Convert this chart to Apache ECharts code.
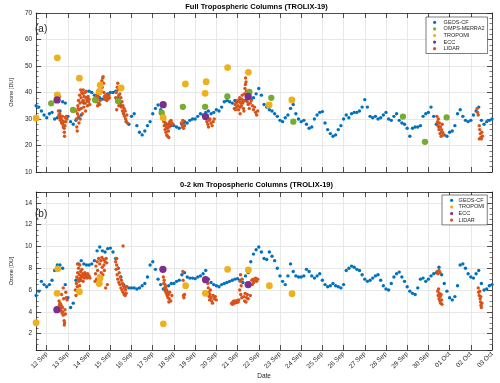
<!DOCTYPE html>
<html>
<head>
<meta charset="utf-8">
<script src="https://cdn.jsdelivr.net/npm/echarts@6/dist/echarts.min.js"></script>
<style>
  html, body { margin: 0; padding: 0; background: #fff; }
  #chart { width: 500px; height: 383px; }
</style>
</head>
<body>
<div id="chart"></div>
<script>
// x = days since 12 Sep 2019 00:00
const dateLabels = ['12 Sep', '13 Sep', '14 Sep', '15 Sep', '16 Sep', '17 Sep', '18 Sep', '19 Sep',
  '20 Sep', '21 Sep', '22 Sep', '23 Sep', '24 Sep', '25 Sep', '26 Sep', '27 Sep', '28 Sep',
  '29 Sep', '30 Sep', '01 Oct', '02 Oct', '03 Oct'];

// GEOS-CF, 3-hourly output starting 11 Sep 12:00
const geosStart = -0.5;
const geosStep = 0.125;
const geosTop = [
  35.0, 34.5, 33.0, 31.5,
  30.5, 32.0, 32.5, 30.0, 30.5, 33.0, 36.5, 36.0,
  31.0, 29.0, 28.0, 29.5, 30.5, 31.5, 36.0, 38.0,
  40.5, 40.0, 39.0, 38.5, 38.0, 37.5, 37.5, 39.5,
  40.0, 40.0, 40.5, 38.0, 35.0, 32.0, 29.0, 28.0,
  31.0, 32.0, 27.5, 25.0, 24.0, 25.5, 27.5, 29.0,
  32.0, 34.0, 35.3, 33.5, 30.5, 28.0, 28.0, 27.5,
  27.5, 27.0, 26.5, 28.0, 29.0, 28.5, 29.5, 30.0,
  30.0, 31.0, 32.0, 31.5, 32.5, 33.0, 32.0, 32.5,
  33.5, 33.0, 34.5, 36.5, 37.0, 36.5, 36.0, 37.0,
  36.5, 37.5, 36.5, 37.0, 38.0, 37.5, 38.0, 39.5,
  41.5, 39.0, 35.5, 34.5, 33.5, 33.0, 32.0, 31.0,
  29.5, 29.0, 30.5, 31.5, 34.0, 35.5, 32.0, 30.0,
  29.0, 29.5, 28.0, 26.5, 27.0, 30.0, 31.5, 32.5,
  32.8, 28.5, 26.0, 24.5, 23.5, 24.0, 26.0, 27.5,
  30.0, 31.5, 30.5, 32.0, 32.5, 32.5, 33.0, 34.5,
  37.3, 34.5, 31.0, 30.5, 31.0, 30.0, 30.5, 31.5,
  32.5, 30.0, 29.5, 31.0, 32.0, 29.5, 28.5, 28.0,
  26.5, 23.5, 26.5, 27.0, 27.0, 27.5, 31.0, 32.0,
  32.5, 34.5, 31.0, 28.0, 27.0, 25.0, 24.0, 23.5,
  25.0, 25.5, 27.5, 32.0, 33.5, 31.0, 29.5, 29.0,
  29.5, 31.5, 33.0, 34.5, 29.5, 28.0, 29.0, 29.5,
  30.0
];
const geosBot = [
  5.5, 5.9, 6.8, 6.5,
  6.3, 6.5, 6.9, 7.8, 8.3, 8.3, 8.0, 6.5,
  5.3, 4.4, 4.8, 6.9, 8.4, 8.7, 8.4, 8.3,
  8.3, 8.4, 8.7, 9.6, 9.95, 9.6, 9.5, 9.8,
  9.85, 9.5, 8.9, 8.0, 7.2, 6.5, 6.3, 6.2,
  6.2, 6.2, 6.1, 6.2, 6.4, 6.6, 7.2, 8.3,
  8.6, 7.9, 7.0, 6.5, 6.1, 6.0, 6.4, 6.6,
  6.6, 6.8, 6.9, 7.4, 7.6, 7.2, 7.1, 7.1,
  7.05, 7.2, 7.3, 7.5, 7.8, 7.0, 6.7, 6.5,
  6.4, 6.3, 6.5, 6.6, 6.7, 6.8, 6.9, 7.0,
  7.05, 6.9, 6.7, 7.3, 7.6, 8.6, 9.3, 9.7,
  9.95, 9.5, 8.9, 8.8, 9.5, 9.1, 8.7, 8.0,
  7.3, 6.8, 6.5, 7.3, 8.4, 7.7, 7.3, 7.2,
  7.2, 7.3, 7.9, 7.7, 7.3, 7.1, 7.3, 7.5,
  6.9, 6.5, 6.3, 6.4, 6.6, 6.4, 6.3, 6.2,
  6.5, 7.8, 8.0, 8.2, 8.1, 7.9, 7.8, 7.4,
  7.0, 6.8, 6.9, 7.1, 7.3, 7.4, 6.9, 6.4,
  6.1, 6.0, 6.6, 7.2, 7.5, 7.65, 7.2, 6.8,
  6.3, 5.9, 5.7, 5.6, 6.2, 7.0, 7.1, 6.8,
  7.0, 7.3, 7.5, 7.6, 8.1, 7.4, 6.6, 5.9,
  5.3, 5.1, 5.4, 6.4, 8.3, 8.4, 8.0, 7.5,
  7.2, 7.1, 7.5, 7.8, 6.6, 6.0, 6.1, 6.4,
  6.5
];

// [day, DU]
const ompsTop = [[0.21, 35.9], [1.24, 33.4], [2.28, 37.2], [3.36, 36.8], [5.42, 32.4], [6.42, 34.6],
  [7.47, 34.6], [8.52, 38.5], [9.56, 40.2], [10.59, 38.0], [11.63, 29.0], [16.8, 30.9],
  [17.84, 21.4], [18.86, 30.6]];
const tropomiTop = [[-0.5, 30.3], [0.5, 53.1], [0.5, 39.1], [1.54, 45.4], [2.52, 42.8], [2.47, 40.3],
  [3.51, 41.7], [5.49, 30.5], [6.54, 43.2], [7.52, 44.1], [7.47, 39.7], [8.53, 49.4],
  [9.51, 47.6], [10.49, 35.3], [11.56, 37.2]];
const eccTop = [[0.49, 37.2], [5.49, 35.4], [7.49, 30.9], [9.5, 38.5]];
const lidarTop = [
  [0.52, 39.5], [0.55, 33], [0.57, 31.5], [0.6, 30.5], [0.6, 38.5], [0.62, 32], [0.64, 29.5],
  [0.66, 31], [0.68, 30], [0.7, 28.5], [0.72, 29.5], [0.74, 31], [0.76, 28], [0.78, 27],
  [0.8, 29], [0.82, 26.5], [0.83, 25], [0.84, 23.5], [0.86, 27.5], [0.88, 30.5], [0.9, 29],
  [0.92, 31], [0.95, 30],
  [1.38, 33], [1.4, 30], [1.42, 27], [1.44, 25.5], [1.45, 32], [1.47, 35], [1.48, 34],
  [1.5, 37], [1.5, 31], [1.52, 28.5], [1.53, 33.5], [1.55, 39], [1.57, 36], [1.58, 30],
  [1.6, 41], [1.62, 38], [1.63, 34], [1.65, 40], [1.67, 36.5], [1.68, 32], [1.7, 39.5],
  [1.72, 41], [1.73, 37], [1.75, 34.5], [1.77, 38.5], [1.8, 40], [1.82, 36], [1.83, 33],
  [1.85, 38], [1.87, 40.5], [1.9, 37], [1.92, 35], [1.95, 38.5], [1.97, 36.5], [2.0, 37.5],
  [2.03, 35.5],
  [2.3, 38], [2.33, 36.5], [2.35, 39], [2.38, 37.5], [2.4, 40], [2.4, 35], [2.42, 38.5],
  [2.45, 36], [2.47, 41], [2.5, 39.5], [2.5, 35.5], [2.52, 37], [2.55, 43], [2.57, 40.5],
  [2.6, 44.5], [2.62, 42], [2.64, 45.5], [2.66, 46], [2.68, 43.5], [2.7, 40], [2.72, 38.5],
  [2.75, 37.5], [2.78, 39], [2.8, 38], [2.83, 37], [2.86, 38.5], [2.9, 37.5], [2.93, 39],
  [2.96, 38],
  [3.25, 38], [3.28, 40], [3.3, 36.5], [3.3, 33.5], [3.33, 42], [3.35, 43.5], [3.37, 41],
  [3.4, 39], [3.4, 35], [3.42, 37.5], [3.45, 39.5], [3.47, 36], [3.5, 38], [3.52, 34.5],
  [3.55, 36.5], [3.57, 33], [3.6, 35], [3.62, 32], [3.65, 34], [3.67, 31], [3.7, 33],
  [3.72, 30], [3.75, 29], [3.78, 31.5], [3.8, 28.5],
  [5.5, 31.5], [5.52, 29], [5.54, 27.5], [5.56, 30], [5.58, 26], [5.6, 28.5], [5.62, 25],
  [5.64, 27], [5.66, 24], [5.68, 26.5], [5.7, 23.5], [5.72, 28], [5.74, 25.5], [5.76, 23],
  [5.78, 27], [5.8, 29], [5.83, 28], [5.86, 29.5], [5.9, 28.5], [5.95, 28],
  [6.35, 28.5], [6.4, 27], [6.42, 29.5], [6.45, 26.5], [6.48, 28], [6.5, 27.5],
  [7.55, 29], [7.58, 30.5], [7.6, 28], [7.63, 27], [7.66, 29.5], [7.7, 30], [7.75, 28.5],
  [7.8, 27.5], [7.85, 29], [7.9, 30],
  [8.85, 34], [8.88, 35.5], [8.9, 33.5], [8.93, 36], [8.96, 34.5], [9.0, 37], [9.02, 35],
  [9.05, 33.5], [9.08, 36.5], [9.1, 38], [9.12, 34.5], [9.12, 32], [9.15, 36], [9.18, 35],
  [9.2, 37.5], [9.22, 39], [9.25, 36], [9.28, 34], [9.3, 37], [9.3, 33], [9.32, 39.5],
  [9.35, 41.5], [9.37, 43], [9.38, 45.5], [9.4, 44], [9.42, 40.5], [9.44, 38.5], [9.46, 36.5],
  [9.5, 35.5], [9.55, 34], [9.6, 36], [9.65, 37], [9.7, 35], [9.75, 33.5], [9.8, 34.5],
  [9.85, 32.5], [9.9, 31.5], [9.95, 33],
  [18.4, 31], [18.43, 29], [18.45, 27.5], [18.47, 30], [18.5, 26], [18.52, 28.5], [18.55, 24.5],
  [18.57, 27], [18.6, 23.5], [18.62, 26], [18.65, 28], [18.67, 25], [18.7, 24],
  [20.3, 34], [20.32, 32.5], [20.35, 31.5], [20.4, 27.5], [20.4, 22.5], [20.42, 26],
  [20.45, 24.5], [20.47, 23], [20.5, 22.5], [20.52, 25], [20.55, 23.5]
];

const tropomiBot = [[-0.5, 3.0], [0.52, 7.95], [0.49, 5.7], [1.54, 5.85], [2.52, 7.1], [2.48, 6.6],
  [5.5, 2.9], [6.55, 6.4], [7.48, 5.7], [8.53, 7.9], [9.51, 7.85], [10.5, 6.4], [11.57, 5.66]];
const eccBot = [[0.48, 4.2], [5.48, 7.9], [7.49, 6.95], [9.5, 6.5]];
const lidarBot = [
  [0.58, 5.0], [0.6, 4.6], [0.62, 4.8], [0.64, 4.3], [0.66, 4.7], [0.68, 4.1], [0.7, 4.5],
  [0.7, 5.6], [0.72, 3.9], [0.74, 4.4], [0.76, 4.0], [0.78, 3.7], [0.78, 6.2], [0.8, 5.2],
  [0.82, 3.2], [0.83, 2.8], [0.84, 3.0], [0.86, 4.2], [0.88, 3.8], [0.9, 5.8], [0.92, 5.3],
  [0.96, 5.1],
  [1.35, 6.0], [1.38, 5.5], [1.4, 6.6], [1.42, 7.2], [1.44, 6.3], [1.45, 8.4], [1.46, 7.6],
  [1.48, 7.0], [1.5, 8.0], [1.52, 6.8], [1.54, 7.4], [1.55, 6.4], [1.56, 8.3], [1.58, 7.1],
  [1.6, 7.7], [1.62, 6.9], [1.64, 7.3], [1.66, 7.9], [1.68, 7.2], [1.7, 7.5], [1.72, 6.8],
  [1.75, 7.4], [1.78, 7.1], [1.8, 7.6], [1.83, 7.2], [1.86, 7.4], [1.9, 7.1], [1.93, 7.5],
  [1.96, 7.2], [2.0, 7.3], [2.04, 7.1],
  [2.28, 6.8], [2.3, 7.5], [2.32, 8.2], [2.35, 7.0], [2.38, 8.6], [2.4, 7.8], [2.42, 6.5],
  [2.45, 8.9], [2.47, 7.3], [2.5, 8.4], [2.52, 6.9], [2.55, 8.7], [2.57, 7.6], [2.6, 9.0],
  [2.62, 8.1], [2.65, 7.4], [2.68, 8.8], [2.7, 8.3], [2.72, 7.8], [2.75, 8.6], [2.78, 6.2],
  [2.8, 8.9], [2.83, 8.5], [2.86, 6.5],
  [3.25, 8.6], [3.27, 7.9], [3.3, 8.3], [3.3, 8.9], [3.32, 7.4], [3.35, 7.0], [3.37, 8.0],
  [3.4, 6.7], [3.42, 7.6], [3.45, 6.5], [3.47, 7.2], [3.5, 6.2], [3.52, 6.9], [3.55, 6.0],
  [3.57, 6.6], [3.6, 5.8], [3.6, 10.05], [3.62, 6.4], [3.65, 5.6], [3.67, 6.2], [3.7, 5.5],
  [3.72, 6.0], [3.75, 5.7], [3.78, 6.3],
  [5.5, 7.2], [5.52, 6.6], [5.54, 6.9], [5.56, 6.2], [5.58, 6.5], [5.6, 5.9], [5.62, 6.3],
  [5.64, 5.7], [5.66, 6.0], [5.68, 5.5], [5.7, 5.8], [5.72, 5.3], [5.74, 5.6], [5.76, 4.9],
  [5.78, 5.2], [5.8, 5.8], [5.85, 5.0], [5.9, 5.5],
  [6.42, 7.7], [6.43, 6.9], [6.45, 5.5], [6.47, 5.3], [6.5, 5.6],
  [7.6, 6.6], [7.62, 6.2], [7.64, 5.8], [7.66, 5.4], [7.68, 5.1], [7.7, 5.6], [7.72, 6.0],
  [7.75, 5.3], [7.78, 5.0], [7.82, 4.8], [7.85, 5.5], [7.9, 5.2], [7.95, 5.4], [8.0, 5.1],
  [8.72, 4.8], [8.75, 4.7], [8.78, 4.9], [8.8, 4.75], [8.83, 5.0], [8.86, 4.8], [8.9, 4.9],
  [8.93, 5.0], [8.96, 4.85], [9.0, 5.05], [9.03, 4.9], [9.06, 5.1], [9.1, 6.0], [9.12, 6.8],
  [9.14, 7.4], [9.15, 5.6], [9.17, 6.4], [9.2, 5.3], [9.22, 7.0], [9.3, 5.4], [9.33, 5.0],
  [9.36, 5.7], [9.4, 4.9], [9.43, 5.3], [9.46, 5.6], [9.5, 5.2], [9.6, 5.5], [9.67, 6.9],
  [9.7, 6.5], [9.73, 7.0], [9.76, 6.7], [9.8, 6.9], [9.85, 7.1], [9.9, 6.8], [9.95, 7.0],
  [18.42, 7.7], [18.45, 7.5], [18.5, 7.8], [18.55, 7.6], [18.44, 5.9], [18.46, 5.5],
  [18.48, 6.1], [18.5, 5.2], [18.52, 5.7], [18.54, 5.0], [18.56, 5.4], [18.58, 4.8],
  [18.6, 5.6], [18.62, 5.1], [18.64, 4.7],
  [20.35, 6.2], [20.37, 5.8], [20.4, 5.5], [20.42, 5.9], [20.44, 5.2], [20.46, 4.9],
  [20.47, 5.4], [20.48, 4.6], [20.5, 4.4], [20.52, 4.8]
];

const FONT = "'Liberation Sans', Arial, Helvetica, sans-serif";
const INK = '#262626';
const GRIDLINE = '#e2e2e2';
const C_GEOS = '#0072BD', C_OMPS = '#77AC30', C_TROPOMI = '#EDB120', C_ECC = '#7E2F8E', C_LIDAR = '#D95319';

function withTime(values) {
  return values.map(function (v, i) { return [geosStart + i * geosStep, v]; });
}

function isWhole(v, step) {
  const q = v / step;
  return Math.abs(q - Math.round(q)) < 1e-6;
}

// bottom + top x axis of one panel
function xAxes(gridIndex, withLabels) {
  const base = {
    type: 'value', gridIndex: gridIndex, min: -0.5, max: 21,
    splitNumber: 21, minInterval: 1, maxInterval: 1,
    axisLine: { show: true, onZero: false, lineStyle: { color: INK, width: 0.8 } },
    axisTick: { show: true, inside: true, length: 5, lineStyle: { color: INK, width: 0.8 } }
  };
  return [
    Object.assign({}, base, {
      position: 'bottom',
      splitLine: { show: true, lineStyle: { color: GRIDLINE, width: 0.8 } },
      axisLabel: {
        show: withLabels, rotate: 45, margin: 3, fontSize: 6.5, color: INK, fontFamily: FONT,
        formatter: function (v) { return isWhole(v, 1) ? dateLabels[Math.round(v)] : ''; }
      },
      name: withLabels ? 'Date' : '', nameLocation: 'middle', nameGap: 21,
      nameTextStyle: { fontSize: 6.5, color: INK, fontFamily: FONT }
    }),
    Object.assign({}, base, { position: 'top', splitLine: { show: false }, axisLabel: { show: false } })
  ];
}

// left + right y axis of one panel
function yAxes(gridIndex, min, max, step, minorSplit) {
  const base = {
    type: 'value', gridIndex: gridIndex, min: min, max: max,
    splitNumber: Math.round((max - min) / step), minInterval: step, maxInterval: step,
    axisLine: { show: true, onZero: false, lineStyle: { color: INK, width: 0.8 } },
    axisTick: { show: true, inside: true, length: 5, lineStyle: { color: INK, width: 0.8 } },
    minorTick: { show: true, splitNumber: minorSplit, length: 2.5, lineStyle: { color: INK, width: 0.6 } }
  };
  return [
    Object.assign({}, base, {
      position: 'left',
      splitLine: { show: true, lineStyle: { color: GRIDLINE, width: 0.8 } },
      axisLabel: {
        margin: 4, fontSize: 6.5, color: INK, fontFamily: FONT,
        formatter: function (v) { return isWhole(v, step) ? String(Math.round(v)) : ''; }
      },
      name: 'Ozone [DU]', nameLocation: 'middle', nameGap: 13.5,
      nameTextStyle: { fontSize: 5.5, color: INK, fontFamily: FONT }
    }),
    Object.assign({}, base, { position: 'right', splitLine: { show: false }, axisLabel: { show: false } })
  ];
}

function dots(name, data, color, size, xi, yi, z) {
  return {
    name: name, type: 'scatter', data: data, xAxisIndex: xi, yAxisIndex: yi,
    symbol: 'circle', symbolSize: size, z: z, silent: true,
    itemStyle: { color: color, opacity: 1 }
  };
}

function legendBox(left, top, names, padLeft, iconW) {
  return {
    orient: 'vertical', left: left, top: top, data: names, z: 20,
    itemWidth: iconW, itemHeight: 3.2, itemGap: 0, padding: [2, 3, 1.5, padLeft],
    backgroundColor: '#fff', borderColor: INK, borderWidth: 0.6, borderRadius: 0,
    selectedMode: false,
    textStyle: { fontSize: 5.5, lineHeight: 6.6, color: INK, fontFamily: FONT, padding: [0, 0, 0, 0] }
  };
}

const chart = echarts.init(document.getElementById('chart'), null, { renderer: 'canvas' });

const option = {
  animation: false,
  backgroundColor: '#fff',
  grid: [
    { left: 21, right: 8, top: 13, height: 159 },
    { left: 21, right: 8, top: 192, height: 158 }
  ],
  xAxis: xAxes(0, false).concat(xAxes(1, true)),
  yAxis: yAxes(0, 10, 70, 10, 5).concat(yAxes(1, 0.5, 15, 2, 4)),
  legend: [
    legendBox(426, 17, ['GEOS-CF', 'OMPS-MERRA2', 'TROPOMI', 'ECC', 'LIDAR'], 7, 8),
    legendBox(442, 195, ['GEOS-CF', 'TROPOMI', 'ECC', 'LIDAR'], 8, 4)
  ],
  graphic: [
    { type: 'text', z: 50, x: 256.5, y: 7, style: { text: 'Full Tropospheric Columns (TROLIX-19)', align: 'center', verticalAlign: 'middle', font: 'bold 7.5px ' + FONT, fill: '#000' } },
    { type: 'text', z: 50, x: 256.5, y: 185, style: { text: '0-2 km Tropospheric Columns (TROLIX-19)', align: 'center', verticalAlign: 'middle', font: 'bold 7.5px ' + FONT, fill: '#000' } },
    { type: 'text', z: 50, x: 35, y: 29, style: { text: '(a)', verticalAlign: 'middle', font: '10px ' + FONT, fill: INK } },
    { type: 'text', z: 50, x: 35, y: 214, style: { text: '(b)', verticalAlign: 'middle', font: '10px ' + FONT, fill: INK } }
  ],
  series: [
    dots('GEOS-CF', withTime(geosTop), C_GEOS, 3.4, 0, 0, 2),
    dots('LIDAR', lidarTop, C_LIDAR, 3.4, 0, 0, 3),
    dots('OMPS-MERRA2', ompsTop, C_OMPS, 6.3, 0, 0, 4),
    dots('TROPOMI', tropomiTop, C_TROPOMI, 6.8, 0, 0, 5),
    dots('ECC', eccTop, C_ECC, 7.3, 0, 0, 6),
    dots('GEOS-CF', withTime(geosBot), C_GEOS, 3.4, 2, 2, 2),
    dots('LIDAR', lidarBot, C_LIDAR, 3.4, 2, 2, 3),
    dots('TROPOMI', tropomiBot, C_TROPOMI, 6.8, 2, 2, 5),
    dots('ECC', eccBot, C_ECC, 7.3, 2, 2, 6)
  ]
};

chart.setOption(option);
</script>
</body>
</html>
